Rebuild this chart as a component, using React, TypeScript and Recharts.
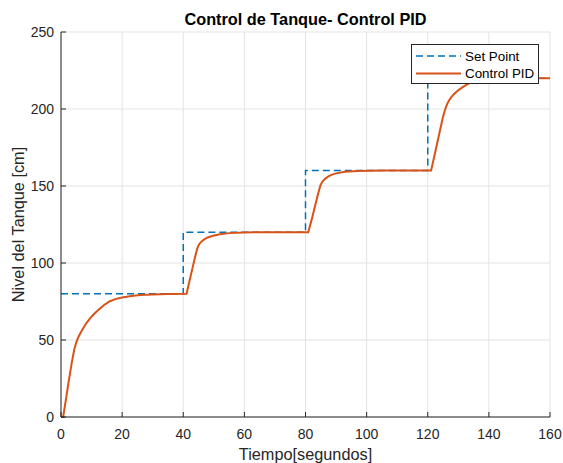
import { LineChart, Line, XAxis, YAxis, CartesianGrid } from "recharts";

// --- datos ---
const tiempoSP = [0, 40, 80, 120, 160];
const nivelSP = [80, 120, 160, 220, 220];

const tiempoPID = [
  0, 0.7, 1.5, 2.5, 3.5, 4.3, 5, 5.7, 6.5, 7.5, 8.5, 9.5, 10.5, 11.5, 12.5, 14, 16, 18, 20, 23, 26, 30, 35, 41.1,
  42, 43, 44, 44.6, 45.2, 46, 47, 48, 50, 52, 55, 60, 65, 80.9,
  82, 83, 84, 84.9, 85.6, 86.5, 87.5, 88.7, 90, 93, 97, 105, 121.1,
  122, 123, 124, 125, 125.7, 126.3, 126.9, 127.6, 128.4, 129.3, 130.3, 131.3, 132.5, 133.8, 135.5, 137.5, 140, 145, 160,
];
const nivelPID = [
  0, 0, 10, 23, 35, 43.5, 48.5, 52, 55, 58.5, 61.5, 64, 66.2, 68.2, 70, 72.6, 75.2, 76.7, 77.6, 78.6, 79.2, 79.6, 79.9, 80,
  88, 96.5, 105, 109.5, 112.2, 114, 115.5, 116.6, 117.8, 118.6, 119.4, 119.8, 120, 120,
  128, 136, 144, 150.5, 153, 154.8, 156.2, 157.4, 158.2, 159.3, 159.8, 160, 160,
  168, 177, 186, 195, 199.8, 203, 205.4, 207.4, 209.3, 211, 212.6, 214, 215.5, 216.9, 218.2, 219.2, 219.8, 220, 220,
];

const xTicks = [0, 20, 40, 60, 80, 100, 120, 140, 160];
const yTicks = [0, 50, 100, 150, 200, 250];

const series = [
  { name: "Set Point", color: "#0072BD", dash: "7 4" },
  { name: "Control PID", color: "#D95319", dash: undefined },
];

const setPoint = tiempoSP.map((t, i) => ({ t, sp: nivelSP[i] }));
const pid = tiempoPID.map((t, i) => ({ t, nivel: nivelPID[i] }));

const axisColor = "#262626";

export default function App() {
  return (
    <div
      style={{
        position: "absolute",
        left: 0,
        top: 0,
        width: 563,
        height: 463,
        background: "#fff",
        fontFamily: "'Liberation Sans', Arial, sans-serif",
      }}
    >
      <LineChart width={563} height={463} margin={{ top: 32, right: 13, bottom: 0, left: 0 }}>
        <CartesianGrid stroke="#e3e3e3" />
        <XAxis
          dataKey="t"
          type="number"
          domain={[0, 160]}
          ticks={xTicks}
          height={46}
          stroke={axisColor}
          tickSize={-5}
          tickMargin={17}
          tick={{ fill: axisColor, fontSize: 14 }}
          label={{
            value: "Tiempo[segundos]",
            position: "insideBottom",
            offset: 3.5,
            fill: axisColor,
            fontSize: 16.3,
          }}
        />
        <YAxis
          type="number"
          domain={[0, 250]}
          ticks={yTicks}
          width={61}
          stroke={axisColor}
          tickSize={-5}
          tickMargin={12}
          tick={{ fill: axisColor, fontSize: 14 }}
          label={{
            value: "Nivel del Tanque [cm]",
            angle: -90,
            position: "insideLeft",
            offset: 18,
            fill: axisColor,
            fontSize: 16.3,
            style: { textAnchor: "middle" },
          }}
        />
        <Line
          data={setPoint}
          dataKey="sp"
          type="stepAfter"
          stroke={series[0].color}
          strokeDasharray={series[0].dash}
          strokeWidth={1.5}
          dot={false}
          isAnimationActive={false}
        />
        <Line
          data={pid}
          dataKey="nivel"
          type="linear"
          stroke={series[1].color}
          strokeWidth={2}
          dot={false}
          isAnimationActive={false}
        />
      </LineChart>

      {/* titulo */}
      <svg width={563} height={40} style={{ position: "absolute", left: 0, top: 0 }}>
        <text x={305.5} y={25} textAnchor="middle" fontWeight="bold" fontSize={16.3} fill="#000">
          Control de Tanque- Control PID
        </text>
      </svg>

      {/* leyenda */}
      <div
        style={{
          position: "absolute",
          left: 411,
          top: 44,
          width: 126,
          height: 38,
          border: `1px solid ${axisColor}`,
          background: "#fff",
        }}
      >
        <svg width={126} height={38}>
          {series.map((s, i) => (
            <g key={s.name}>
              <line
                x1={4}
                x2={49}
                y1={11 + i * 17.5}
                y2={11 + i * 17.5}
                stroke={s.color}
                strokeWidth={s.dash ? 1.5 : 2}
                strokeDasharray={s.dash}
              />
              <text x={53} y={11 + i * 17.5} dy="0.36em" fontSize={13.4} fill="#000">
                {s.name}
              </text>
            </g>
          ))}
        </svg>
      </div>
    </div>
  );
}
